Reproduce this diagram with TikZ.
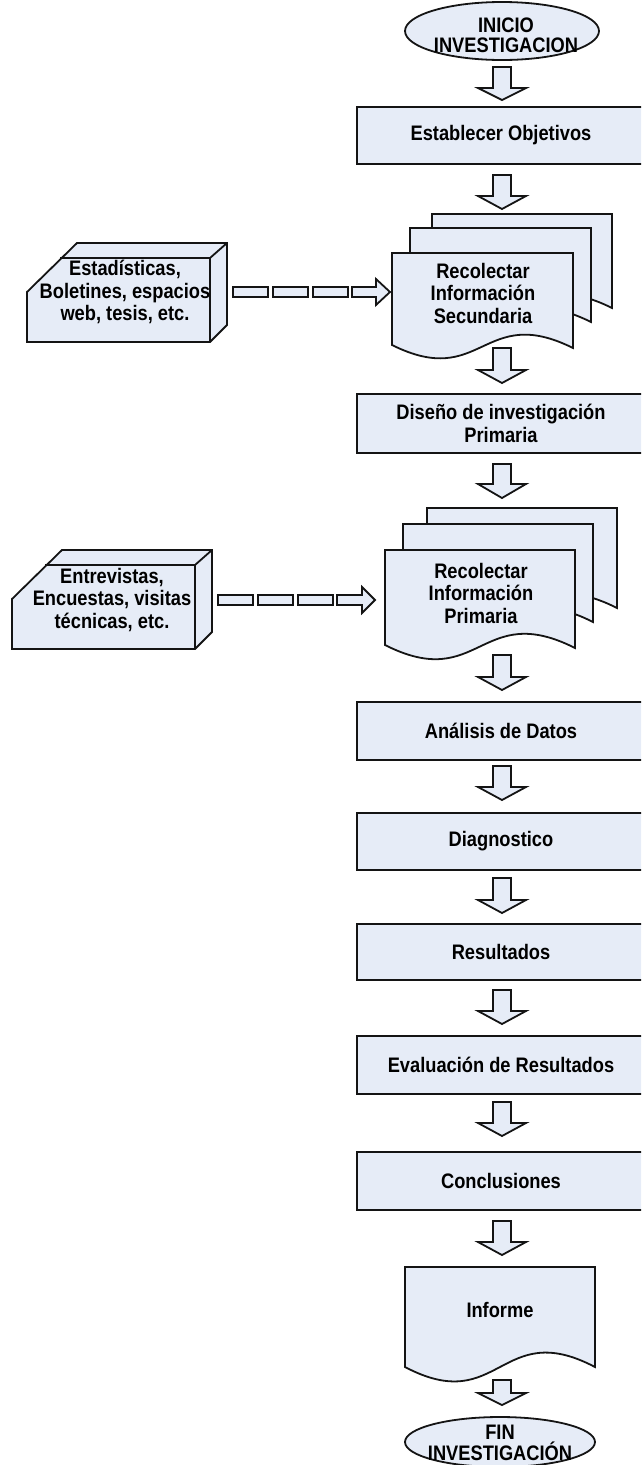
\documentclass[tikz,border=0pt]{standalone}
\usepackage{fontspec}
\setmainfont{Liberation Sans}[FakeStretch=0.87]
\definecolor{boxfill}{RGB}{230,236,247}
\definecolor{edge}{RGB}{20,20,20}

% down block arrow: shaft top, head base, tip (x fixed on the main column)
\newcommand\dnarrow[3]{%
  \draw[blk] (493,#1) -- (511,#1) -- (511,#2) -- (526,#2) -- (502,#3)
    -- (478,#2) -- (493,#2) -- cycle;}
% document sheet with wavy bottom: left, top, right, left-bottom, right-bottom, wave depth
\newcommand\docsheet[6]{%
  \draw[blk] (#1,#2) -- (#3,#2) -- (#3,#5)
    .. controls ({(#1+#3)/2},{#5-#6}) and ({(#1+#3)/2},{#4+#6}) .. (#1,#4) -- cycle;}
% bevelled 3-D block: left x, bottom y
\newcommand\bevelblock[2]{%
  \draw[blk] (#1,#2) -- (#1,{#2-50}) -- ({#1+50},{#2-99}) -- ({#1+200},{#2-99})
    -- ({#1+200},{#2-17}) -- ({#1+183},#2) -- cycle;
  \draw[edgeline] ({#1+33},{#2-84}) -- ({#1+183},{#2-84}) -- ({#1+200},{#2-99});
  \draw[edgeline] ({#1+183},{#2-84}) -- ({#1+183},#2);}

\begin{document}
\begin{tikzpicture}[x=1pt,y=-1pt,
  blk/.style={draw=edge, fill=boxfill, line width=1.8pt, line join=miter},
  edgeline/.style={draw=edge, line width=1.8pt},
  lbl/.style={font=\fontsize{21}{22.5}\selectfont\bfseries, align=center,
    inner sep=0pt, text=black},
  stepbox/.style={blk, rectangle, minimum width=288pt, inner sep=0pt, lbl},
]
\useasboundingbox (0,0) rectangle (641,1465);
\clip (0,0) rectangle (641,1465);

% start terminal
\draw[blk] (502,31) ellipse [x radius=97, y radius=29];
\node[lbl, font=\fontsize{21}{20}\selectfont\bfseries] (inicio) at (506,35)
  {INICIO\\INVESTIGACION};
\dnarrow{67}{88}{100}

\node[stepbox, minimum height=57pt] (obj) at (501,135.5) {Establecer Objetivos};
\dnarrow{175}{196}{209}

% secondary information: stack of sheets
\docsheet{432}{214}{612}{305}{308}{45}
\docsheet{410}{228}{591}{319}{322}{45}
\docsheet{392}{253}{573}{345}{348}{45}
\node[lbl] (sec) at (483,293) {Recolectar\\Información\\Secundaria};

\bevelblock{27}{342}
\node[lbl] (srcsec) at (125,292) {Estadísticas,\\Boletines, espacios\\web, tesis, etc.};

\foreach \a in {233,273,313} \draw[blk] (\a,287) rectangle ++(35,10);
\draw[blk] (352,287) -- (376,287) -- (376,279) -- (390,292) -- (376,305)
  -- (376,297) -- (352,297) -- cycle;

\dnarrow{348}{370}{383}
\node[stepbox, minimum height=59pt] (dis) at (501,423.5) {Diseño de investigación\\Primaria};
\dnarrow{464}{484}{498}

% primary information: stack of sheets
\docsheet{427}{508}{617}{605}{608}{48}
\docsheet{403}{524}{593}{619}{622}{48}
\docsheet{385}{550}{575}{645}{648}{48}
\node[lbl] (pri) at (481,593) {Recolectar\\Información\\Primaria};

\bevelblock{12}{649}
\node[lbl] (srcpri) at (112,600) {Entrevistas,\\Encuestas, visitas\\técnicas, etc.};

\foreach \a in {218,258,298} \draw[blk] (\a,595) rectangle ++(35,10);
\draw[blk] (337,595) -- (362,595) -- (362,587) -- (375,600) -- (362,613)
  -- (362,605) -- (337,605) -- cycle;

\dnarrow{655}{677}{690}
\node[stepbox, minimum height=58pt] (ana) at (501,731) {Análisis de Datos};
\dnarrow{766}{787}{800}
\node[stepbox, minimum height=57pt] (diag) at (501,841.5) {Diagnostico};
\dnarrow{878}{900}{913}
\node[stepbox, minimum height=56pt] (res) at (501,952) {Resultados};
\dnarrow{990}{1011}{1024}
\node[stepbox, minimum height=58pt] (eval) at (501,1065) {Evaluación de Resultados};
\dnarrow{1102}{1123}{1136}
\node[stepbox, minimum height=58pt] (conc) at (501,1181) {Conclusiones};
\dnarrow{1221}{1242}{1255}

% report
\docsheet{405}{1267}{595}{1367}{1367}{50}
\node[lbl] (inf) at (500,1310) {Informe};
\dnarrow{1380}{1393}{1405}

% end terminal
\draw[blk] (500,1442) ellipse [x radius=95, y radius=25];
\node[lbl, font=\fontsize{21}{21}\selectfont\bfseries] (fin) at (500,1443)
  {FIN\\INVESTIGACIÓN};
\end{tikzpicture}
\end{document}
